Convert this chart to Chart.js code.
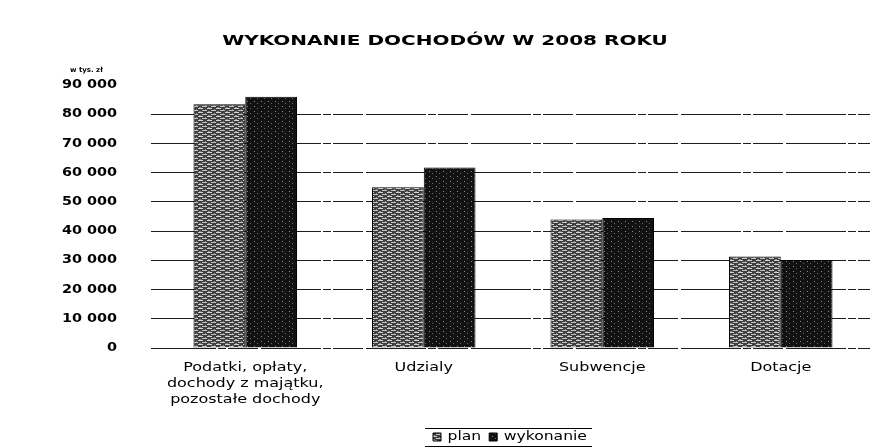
<!DOCTYPE html>
<html>
<head>
<meta charset="utf-8">
<script src="https://cdn.jsdelivr.net/npm/chart.js@4/dist/chart.umd.min.js"></script>
<style>
  html, body { margin: 0; padding: 0; background: #fff; }
  #wrap { width: 873px; height: 448px; position: relative; }
</style>
</head>
<body>
<div id="wrap"><canvas id="c" width="873" height="448"></canvas></div>
<script>
// ---- data ----
const titleText = 'WYKONANIE DOCHODÓW W 2008 ROKU';
const unitText = 'w tys. zł';
const categories = [
  ['Podatki, opłaty,', 'dochody z majątku,', 'pozostałe dochody'],
  'Udzialy',
  'Subwencje',
  'Dotacje'
];
const seriesNames = ['plan', 'wykonanie'];
const planValues = [83400, 55000, 44000, 31300];
const wykonanieValues = [86000, 61800, 44500, 30100];
const yTicks = [0, 10000, 20000, 30000, 40000, 50000, 60000, 70000, 80000, 90000];

// ---- fill textures ----
function makePattern(w, h, base, marks) {
  const c = document.createElement('canvas');
  c.width = w; c.height = h;
  const g = c.getContext('2d');
  g.fillStyle = base; g.fillRect(0, 0, w, h);
  marks.forEach(m => { g.fillStyle = m[0]; g.fillRect(m[1], m[2], m[3], m[4]); });
  return g.createPattern(c, 'repeat');
}
const planFill = makePattern(9, 4, '#3e3e3e', [
  ['#d4d4d4', 0, 0, 5, 1], ['#c4c4c4', 4, 2, 5, 1], ['#8a8a8a', 7, 1, 1, 1], ['#8a8a8a', 1, 3, 2, 1]
]);
const wykFill = makePattern(7, 5, '#121212', [
  ['#8a8a8a', 2, 1, 1, 1], ['#6a6a6a', 5, 3, 1, 1]
]);

const fmt = v => String(v).replace(/\B(?=(\d{3})+(?!\d))/g, ' ');
const FONT = '"DejaVu Sans", sans-serif';

// draw/measure text horizontally widened, as the scanned source glyphs are
function stretched(ctx, sx, fn) {
  const of = CanvasRenderingContext2D.prototype.fillText;
  const om = CanvasRenderingContext2D.prototype.measureText;
  ctx.fillText = function (t, x, y) {
    this.save(); this.translate(x, y); this.scale(sx, 1); of.call(this, t, 0, 0); this.restore();
  };
  ctx.measureText = function (t) {
    const m = om.call(this, t);
    return { width: m.width * sx, actualBoundingBoxAscent: m.actualBoundingBoxAscent, actualBoundingBoxDescent: m.actualBoundingBoxDescent };
  };
  try { return fn(); } finally { delete ctx.fillText; delete ctx.measureText; }
}

function patchScales(chart) {
  [['x', 1.23], ['y', 1.2]].forEach(([id, sx]) => {
    const s = chart.scales[id];
    if (s && !s._stPatched) {
      const o = s.drawLabels;
      s.drawLabels = function (ca) { return stretched(this.ctx, sx, () => o.call(this, ca)); };
      s._stPatched = true;
    }
  });
}

const decor = {
  id: 'decor',
  beforeLayout(chart) {
    const lg = chart.legend;
    if (lg && !lg._stPatched) {
      const of = lg.fit, od = lg.draw;
      lg.fit = function () { return stretched(this.ctx, 1.2, () => of.call(this)); };
      lg.draw = function () { return stretched(this.ctx, 1.2, () => od.call(this)); };
      lg._stPatched = true;
    }
    patchScales(chart);
  },
  afterLayout(chart) {
    const lg = chart.legend;
    if (!lg || !lg.legendHitBoxes.length) return;
    const pad = lg.options.labels.padding;
    const lw = lg.lineWidths[0];
    const start = (lg.left + pad + lg.right - lw) / 2;
    const dx = 433 - start;
    lg.left += dx; lg.right += dx;
    const ih = lg.legendHitBoxes[0].height;
    const dy = 437 - (lg.top + pad + ih / 2);
    lg.top += dy; lg.bottom += dy;
  },
  beforeDraw(chart) { patchScales(chart); },
  afterDraw(chart) {
    const c = chart.ctx;
    c.save();
    c.fillStyle = '#000';
    c.font = 'bold 14px ' + FONT;
    c.textAlign = 'center';
    c.textBaseline = 'middle';
    c.translate(445, 41.5);
    c.scale(1.43, 1);
    c.fillText(titleText, 0, 0);
    c.restore();
    // unit label
    c.save();
    c.fillStyle = '#000';
    c.font = 'bold 7px ' + FONT;
    c.textAlign = 'left';
    c.textBaseline = 'middle';
    c.fillText(unitText, 70, 70);
    c.restore();
    // legend frame lines
    const lg = chart.legend;
    if (lg && lg.legendHitBoxes.length) {
      const hb = lg.legendHitBoxes;
      const l = hb[0].left - 8;
      const last = hb[hb.length - 1];
      const r = last.left + last.width + 5;
      c.save();
      c.strokeStyle = '#000';
      c.lineWidth = 1;
      c.beginPath();
      c.moveTo(l, 428.5); c.lineTo(r, 428.5);
      c.moveTo(l, 446.5); c.lineTo(r, 446.5);
      c.stroke();
      c.restore();
    }
  }
};

new Chart(document.getElementById('c'), {
  type: 'bar',
  data: {
    labels: categories,
    datasets: [
      { label: seriesNames[0], data: planValues, backgroundColor: planFill, borderColor: '#000', borderWidth: 1 },
      { label: seriesNames[1], data: wykonanieValues, backgroundColor: wykFill, borderColor: '#000', borderWidth: 1 }
    ]
  },
  options: {
    responsive: false,
    animation: false,
    devicePixelRatio: 1,
    layout: { padding: { top: 85, left: 0, right: 3, bottom: 0 } },
    datasets: { bar: { categoryPercentage: 0.58, barPercentage: 1.0 } },
    plugins: {
      title: { display: false },
      tooltip: { enabled: false },
      legend: {
        position: 'bottom',
        labels: {
          color: '#000',
          font: { family: FONT, size: 13 },
          boxWidth: 8, boxHeight: 8,
          padding: 8
        }
      }
    },
    scales: {
      x: {
        grid: { display: false },
        border: { display: false },
        ticks: {
          color: '#000',
          font: { family: FONT, size: 13, lineHeight: 1.23 },
          padding: 4,
          maxRotation: 0, autoSkip: false
        },
        afterFit(s) {
          const lh = s.chart.legend ? s.chart.legend.height : 30;
          s.height = 448 - lh - 348;
        }
      },
      y: {
        min: 0, max: 90000,
        afterBuildTicks(s) { s.ticks = yTicks.map(v => ({ value: v })); },
        grid: {
          color: ctx => (ctx.tick && ctx.tick.value === 90000) ? 'rgba(0,0,0,0)' : '#1c1c1c',
          lineWidth: 1,
          drawTicks: true, tickLength: 5
        },
        border: { display: false, dash: [60, 2, 8, 2, 30, 3] },
        ticks: {
          color: '#000',
          font: { family: FONT, size: 12, weight: 'bold' },
          padding: 34,
          callback: v => fmt(v)
        },
        afterFit(s) { s.width = 156; }
      }
    }
  },
  plugins: [decor]
});
</script>
</body>
</html>
